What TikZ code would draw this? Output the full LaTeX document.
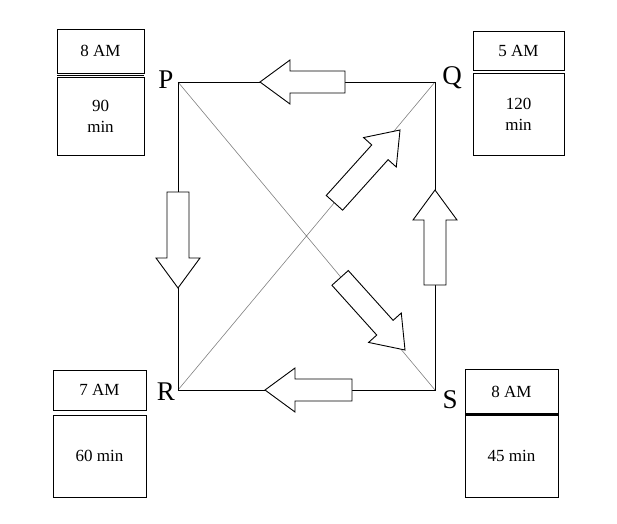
\documentclass[tikz,border=0pt]{standalone}
\usepackage{fontspec}
\setmainfont{Liberation Serif}
\begin{document}
\begin{tikzpicture}[x=1pt,y=1pt,
  bx/.style={draw,line width=0.9pt,align=center,font=\fontsize{17}{21}\selectfont,inner sep=0pt},
  lbl/.style={font=\fontsize{27}{30}\selectfont,inner sep=0pt},
  blk/.style={draw,fill=white,line width=0.9pt,line join=miter}]
\newcommand\blockarrow[4]{\begin{scope}[shift={(#2)},rotate=#3]
 \draw[blk] (0,0)--(-30,22)--(-30,11)--(-#4,11)--(-#4,-11)--(-30,-11)--(-30,-22)--cycle coordinate (#1);
 \end{scope}}
\useasboundingbox (0,0) rectangle (617,523);
\coordinate (P) at (178,441);
\coordinate (Q) at (435,441);
\coordinate (R) at (178,133);
\coordinate (S) at (435,133);
\draw[gray,line width=0.6pt] (P)--(S) (Q)--(R);
\draw[line width=0.9pt] (P)--(Q)--(S)--(R)--cycle;
\blockarrow{a1}{260,441}{180}{85}
\blockarrow{a2}{178,235}{-90}{96}
\blockarrow{a3}{265,133}{180}{87}
\blockarrow{a4}{435,333}{90}{95}
\blockarrow{a5}{400,393}{48}{98}
\blockarrow{a6}{405,173}{-48}{97}
\node[lbl] (lP) at (166,443) {P};
\node[lbl] (lQ) at (452,445) {Q};
\node[lbl] (lR) at (166,131) {R};
\node[lbl] (lS) at (450,123) {S};
% boxes
\node[bx,minimum width=87,minimum height=44] (p1) at (100.5,472) {8 AM};
\node[bx,minimum width=87,minimum height=78] (p2) at (100.5,407) {90\\min};
\draw[line width=0.9pt] (57,448)--(144,448);
\node[bx,minimum width=91,minimum height=39] (q1) at (518.5,472.5) {5 AM};
\node[bx,minimum width=91,minimum height=82] (q2) at (518.5,409) {120\\min};
\node[bx,minimum width=93,minimum height=40] (r1) at (99.5,133) {7 AM};
\node[bx,minimum width=93,minimum height=82] (r2) at (99.5,67) {60 min};
\node[bx,minimum width=93,minimum height=45] (s1) at (511.5,131.5) {8 AM};
\node[bx,minimum width=93,minimum height=82] (s2) at (511.5,67) {45 min};
\draw[line width=1.6pt] (465,109)--(558,109);
\end{tikzpicture}
\end{document}
